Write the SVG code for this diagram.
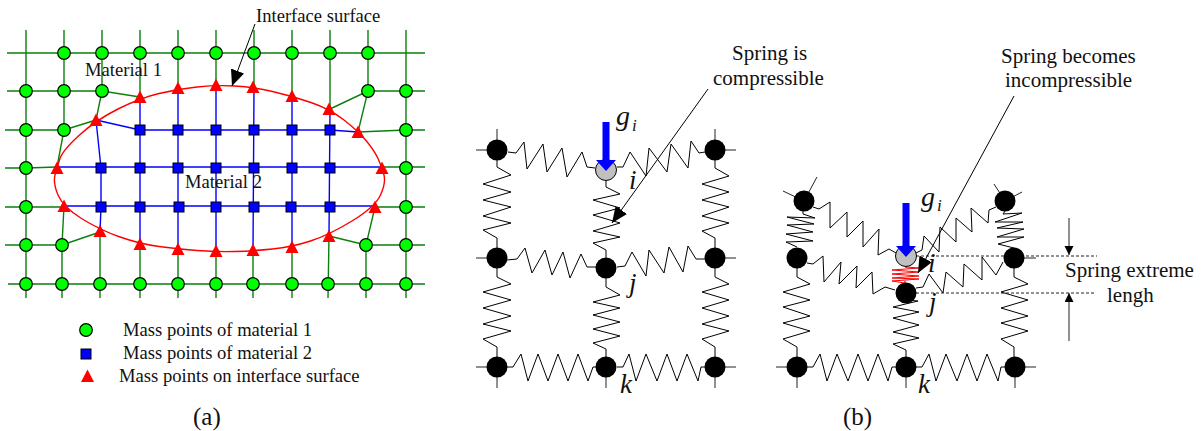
<svg xmlns="http://www.w3.org/2000/svg" xmlns:xlink="http://www.w3.org/1999/xlink" width="1204" height="431" viewBox="0 0 1204 431">
<style>
text{font-family:"Liberation Serif","Times New Roman",serif;fill:#111}
.s18{font-size:18.6px}.s20{font-size:21px}.s24{font-size:25px}
.it{font-style:italic}.g{font-size:28px}.ii{font-size:27px}.sub{font-size:17px}
.gr,.bl,.rd,.sp,.st,.ar,.dd,.dm{fill:none}
.gr{stroke:#0a800a;stroke-width:1.4}
.bl{stroke:#0000ff;stroke-width:1.4}
.rd{stroke:#ff0000;stroke-width:1.4}
.sp{stroke:#000;stroke-width:1;stroke-linejoin:miter}
.sr{fill:none;stroke:#ff0000;stroke-width:1}
.st{stroke:#222;stroke-width:1}
.ar{stroke:#000;stroke-width:1;marker-end:url(#ah)}
.dd{stroke:#222;stroke-width:1;stroke-dasharray:3 2}
.dm{stroke:#555;stroke-width:1.3;marker-end:url(#dh)}
.m1{fill:#00ff00;stroke:#000;stroke-width:1.2}
.m2{fill:#0000ff;stroke:#000;stroke-width:1}
.m3{fill:#ff0000}
.bk{fill:#000}
.gy{fill:#c0c0c0;stroke:#000;stroke-width:1}
.ba{fill:#0000ff}
</style>
<defs>
<marker id="ah" markerUnits="userSpaceOnUse" markerWidth="17" markerHeight="15" refX="16" refY="7" orient="auto"><path d="M0 0L16 7L0 14Z" fill="#000"/></marker>
<marker id="dh" markerUnits="userSpaceOnUse" markerWidth="10" markerHeight="10" refX="9" refY="4.5" orient="auto"><path d="M0 0L9 4.5L0 9Z" fill="#000"/></marker>
<circle id="c" r="6.3" class="m1"/>
<rect id="q" x="-5" y="-5" width="10" height="10" class="m2"/>
<path id="t" d="M0-6.5L6.500 6H-6.500Z" class="m3"/>
<circle id="n" r="10.5" class="bk"/>
</defs>

<g id="connectors-a">
<path class="gr" d="M7 53H425M7 91H102L140 97M330 109L368 91H425M5 130H64L96 120M358 132L406 130H425M5 168H26L57 167M382 167H425M5 207H64M375 207H425M5 245H62L100 232M329 236L366 245H425M8 284H425"/>
<path class="gr" d="M26 30V298M64 30V130L57 167M64 206L62 245V298M102 30V91L96 120M100 232V298M140 30V97M140 244V298M178 30V88M178 249V298M216 30V84M216 251V298M254 30V87M253 251V298M292 30V96M292 247V298M330 30V109M329 236L328 298M368 30V91L358 132M375 207L366 245V298M406 30V298"/>
<path class="bl" d="M96 120L140 130H330L358 132M57 167H382M64 206H375M96 120L101 168V207L100 232M140 97V244M178 88V249M216 84V251M254 87L253 251M292 96V247M330 109L329 236"/>
<path id="interface-curve" class="rd" d="M60 158.500Q63 150 79.500 135Q96 120 118 109Q140 98 159 93.500Q178 89 197 87Q216 85 234.500 86Q253 87 272.500 91.500Q292 96 311 102.500Q330 109 344 120Q358 131 366 140.500Q374 150 378 158.500Q382 167 384 175Q386 183 380.500 195Q375 207 352 221Q329 235 310.500 241Q292 247 272.500 249Q253 251 234.500 251.500Q216 252 197 250.500Q178 249 159 246.500Q140 244 120 237Q100 230 81.500 218.500Q63 207 58 195Q53 183 55 175Q57 167 60 158.500Z"/>
<path id="interface-arrow" class="ar" d="M255 24L232 86"/>
</g>

<g id="nodes-a">
<g id="a1"><use href="#c" x="64" y="53"/></g><g id="a2"><use href="#c" x="102" y="53"/></g><g id="a3"><use href="#c" x="140" y="53"/></g><g id="a4"><use href="#c" x="178" y="53"/></g><g id="a5"><use href="#c" x="216" y="53"/></g><g id="a6"><use href="#c" x="254" y="53"/></g><g id="a7"><use href="#c" x="292" y="53"/></g><g id="a8"><use href="#c" x="330" y="53"/></g><g id="a9"><use href="#c" x="368" y="53"/></g>
<g id="a10"><use href="#c" x="26" y="91"/></g><g id="a11"><use href="#c" x="64" y="91"/></g><g id="a12"><use href="#c" x="102" y="91"/></g><g id="a13"><use href="#c" x="368" y="91"/></g><g id="a14"><use href="#c" x="406" y="91"/></g>
<g id="a15"><use href="#c" x="26" y="130"/></g><g id="a16"><use href="#c" x="64" y="130"/></g><g id="a17"><use href="#c" x="406" y="130"/></g>
<g id="a18"><use href="#c" x="26" y="168"/></g><g id="a19"><use href="#c" x="406" y="168"/></g>
<g id="a20"><use href="#c" x="26" y="207"/></g><g id="a21"><use href="#c" x="406" y="207"/></g>
<g id="a22"><use href="#c" x="26" y="245"/></g><g id="a23"><use href="#c" x="62" y="245"/></g><g id="a24"><use href="#c" x="366" y="245"/></g><g id="a25"><use href="#c" x="406" y="245"/></g>
<g id="a26"><use href="#c" x="26" y="284"/></g><g id="a27"><use href="#c" x="62" y="284"/></g><g id="a28"><use href="#c" x="100" y="284"/></g><g id="a29"><use href="#c" x="140" y="284"/></g><g id="a30"><use href="#c" x="178" y="284"/></g><g id="a31"><use href="#c" x="216" y="284"/></g><g id="a32"><use href="#c" x="253" y="284"/></g><g id="a33"><use href="#c" x="292" y="284"/></g><g id="a34"><use href="#c" x="328" y="284"/></g><g id="a35"><use href="#c" x="366" y="284"/></g><g id="a36"><use href="#c" x="406" y="284"/></g>
<g id="b1"><use href="#q" x="140" y="130"/></g><g id="b2"><use href="#q" x="178" y="130"/></g><g id="b3"><use href="#q" x="216" y="130"/></g><g id="b4"><use href="#q" x="254" y="130"/></g><g id="b5"><use href="#q" x="292" y="130"/></g><g id="b6"><use href="#q" x="330" y="130"/></g>
<g id="b7"><use href="#q" x="101" y="168"/></g><g id="b8"><use href="#q" x="140" y="168"/></g><g id="b9"><use href="#q" x="178" y="168"/></g><g id="b10"><use href="#q" x="216" y="168"/></g><g id="b11"><use href="#q" x="254" y="168"/></g><g id="b12"><use href="#q" x="292" y="168"/></g><g id="b13"><use href="#q" x="330" y="168"/></g>
<g id="b14"><use href="#q" x="101" y="207"/></g><g id="b15"><use href="#q" x="140" y="207"/></g><g id="b16"><use href="#q" x="179" y="207"/></g><g id="b17"><use href="#q" x="216" y="207"/></g><g id="b18"><use href="#q" x="254" y="207"/></g><g id="b19"><use href="#q" x="291" y="207"/></g><g id="b20"><use href="#q" x="330" y="207"/></g>
<g id="t1"><use href="#t" x="96" y="120"/></g><g id="t2"><use href="#t" x="140" y="97"/></g><g id="t3"><use href="#t" x="178" y="88"/></g><g id="t4"><use href="#t" x="216" y="85"/></g><g id="t5"><use href="#t" x="253" y="87"/></g><g id="t6"><use href="#t" x="292" y="96"/></g><g id="t7"><use href="#t" x="329" y="109"/></g><g id="t8"><use href="#t" x="358" y="132"/></g>
<g id="t9"><use href="#t" x="57" y="168"/></g><g id="t10"><use href="#t" x="382" y="168"/></g><g id="t11"><use href="#t" x="64" y="206"/></g><g id="t12"><use href="#t" x="375" y="207"/></g>
<g id="t13"><use href="#t" x="100" y="231"/></g><g id="t14"><use href="#t" x="140" y="244"/></g><g id="t15"><use href="#t" x="178" y="249"/></g><g id="t16"><use href="#t" x="216" y="251"/></g><g id="t17"><use href="#t" x="253" y="250"/></g><g id="t18"><use href="#t" x="292" y="247"/></g><g id="t19"><use href="#t" x="329" y="236"/></g>
</g>

<g id="legend">
<g id="leg1"><use href="#c" x="86" y="330"/></g>
<g id="leg2"><use href="#q" x="86" y="354"/></g>
<g id="leg3"><use href="#t" x="87.500" y="376"/></g>
</g>

<g id="connectors-b1">
<path class="st" d="M476 150H507M497 129V160M715 129V160M705 150H736M476 258H507M736 258H705M476 367H507M497 388V357M606 388V357M705 367H736M715 388V357"/>
<polyline class="sp" points="508,152 516,153 524,142 527,169 543,144 547,172 562,148 567,177 582,152 587,167 595,168"/>
<polyline class="sp" points="617,167 623,167 630,152 646,176 649,148 667,172 671,144 688,168 691,141 699,153 705,152"/>
<polyline class="sp" points="497,160 497,167 511,175 483,184 511,192 483,200 511,207 483,216 511,223 483,230 497,238 497,248"/>
<polyline class="sp" points="606,180 606,187 620,194 593,200 620,208 593,215 620,223 593,231 620,237 593,243 606,250 606,258"/>
<polyline class="sp" points="715,160 715,168 729,176 702,184 729,192 702,200 729,207 702,216 729,223 702,231 715,238 715,248"/>
<polyline class="sp" points="507,260 517,259 525,248 532,273 545,250 552,275 563,252 570,278 581,254 587,267 596,267"/>
<polyline class="sp" points="617,267 625,266 632,252 646,276 649,250 664,273 669,247 683,272 688,246 696,259 705,259"/>
<polyline class="sp" points="497,268 497,277 511,284 483,292 511,300 483,308 511,316 483,324 511,331 483,339 497,347 497,357"/>
<polyline class="sp" points="606,278 606,287 620,295 593,302 620,308 593,315 620,322 593,329 620,336 593,343 606,349 606,357"/>
<polyline class="sp" points="715,268 715,277 729,284 702,292 729,300 702,308 729,316 702,324 729,331 702,339 715,347 715,357"/>
<polyline class="sp" points="507,367 513,367 521,354 528,381 538,354 548,381 558,354 568,381 578,354 588,381 593,367 596,367"/>
<polyline class="sp" points="617,367 623,367 629,354 636,381 646,354 657,381 667,354 677,381 687,354 698,381 701,367 705,367"/>
</g>
<g id="nodes-b1">
<g id="p1"><use href="#n" x="497" y="150"/></g><g id="p2"><circle class="gy" cx="606" cy="170" r="10.500"/></g><g id="p3"><use href="#n" x="715" y="150"/></g>
<g id="p4"><use href="#n" x="497" y="258"/></g><g id="p5"><use href="#n" x="606" y="268"/></g><g id="p6"><use href="#n" x="715" y="258"/></g>
<g id="p7"><use href="#n" x="497" y="367"/></g><g id="p8"><use href="#n" x="606" y="367"/></g><g id="p9"><use href="#n" x="715" y="367"/></g>
</g>
<g id="arrows-b1">
<polygon class="ba" points="602.500,122 609.500,122 609.500,160 616,160 606,171 596,160 602.500,160"/>
<path class="ar" d="M708 89L612 223"/>
</g>

<g id="connectors-b2">
<path class="st" d="M804 201L817 177M804 201L783 191M1005 201L994 184M1005 201L1022 192M1014 258H1036M776 367H807M797 388V357M906 388V357M1005 367H1036M1015 388V357M906 262V268M905 281V285"/>
<polyline class="sp" points="803,211 803,214 815,218 787,217 814,224 787,225 813,232 786,234 813,241 786,242 797,247"/>
<polyline class="sp" points="1005,211 1003,214 1022,213 995,222 1023,222 997,228 1024,229 997,237 1024,237 998,244 1014,248"/>
<polyline class="sp" points="813,207 819,209 830,202 830,228 847,212 847,237 863,221 863,247 879,229 878,255 889,249 896,253"/>
<polyline class="sp" points="916,253 922,250 924,236 939,252 940,227 956,242 956,218 972,232 971,208 988,223 989,210 996,207"/>
<polyline class="sp" points="807,263 813,264 823,256 824,282 841,262 839,284 857,266 856,288 872,272 873,294 885,287 895,290"/>
<polyline class="sp" points="916,288 923,287 929,274 943,293 946,272 963,287 964,264 982,280 982,257 996,275 1003,262"/>
<polyline class="sr" points="906,267 919,268 892,270 919,272 892,274 919,276 892,278 919,279 892,281 905,283"/>
<polyline class="sp" points="906,300 918,301 893,307 919,312 893,318 919,325 893,332 919,338 893,344 906,350 906,357"/>
<polyline class="sp" points="797,268 797,277 810,284 783,292 810,300 783,307 810,316 783,323 810,331 783,339 797,347 797,357"/>
<polyline class="sp" points="1014,268 1014,277 1028,284 1001,292 1028,300 1001,308 1028,316 1001,323 1028,331 1001,339 1014,347 1014,357"/>
<polyline class="sp" points="807,367 813,367 820,354 827,381 837,354 848,381 858,354 868,381 878,354 888,381 892,367 896,367"/>
<polyline class="sp" points="916,367 922,367 929,354 936,381 946,354 957,381 967,354 977,381 987,354 998,381 1001,367 1005,367"/>
<path class="dd" d="M906 256H1097M906 293H1096"/>
<path class="dm" d="M1069 218V255"/>
<path class="dm" d="M1069 341V293"/>
</g>
<g id="nodes-b2">
<g id="r1"><use href="#n" x="804" y="201"/></g><g id="r2"><use href="#n" x="1005" y="201"/></g>
<g id="r3"><use href="#n" x="797" y="258"/></g><g id="r4"><circle class="gy" cx="906" cy="256" r="10.500"/></g><g id="r5"><use href="#n" x="1014" y="258"/></g>
<g id="r6"><use href="#n" x="906" y="293"/></g>
<g id="r7"><use href="#n" x="797" y="367"/></g><g id="r8"><use href="#n" x="906" y="367"/></g><g id="r9"><use href="#n" x="1015" y="367"/></g>
</g>
<g id="arrows-b2">
<polygon class="ba" points="902.500,203 909.500,203 909.500,246 916,246 906,257 896,246 902.500,246"/>
<path class="ar" d="M1014 96L918 273"/>
</g>

<g id="labels">
<text class="s18" x="256" y="22">Interface surface</text>
<text class="s18" x="85" y="76">Material 1</text>
<text class="s18" x="185" y="188">Material 2</text>
<text class="s18" x="123" y="336">Mass points of material 1</text>
<text class="s18" x="123" y="359">Mass points of material 2</text>
<text class="s18" x="119" y="382">Mass points on interface surface</text>
<text class="s24" x="193" y="425">(a)</text>
<text class="s24" x="843" y="425">(b)</text>
<text class="s20" x="732" y="60">Spring is</text>
<text class="s20" x="713" y="85">compressible</text>
<text class="s20" x="1001" y="63">Spring becomes</text>
<text class="s20" x="1005" y="87">incompressible</text>
<text class="s20" x="1065" y="277">Spring extreme</text>
<text class="s20" x="1107" y="302">lengh</text>
<text class="it g" x="616" y="125">g</text><text class="it sub" x="632" y="131">i</text>
<text class="it ii" x="629" y="189">i</text>
<text class="it ii" x="629" y="292">j</text>
<text class="it ii" x="620" y="393">k</text>
<text class="it g" x="921" y="206">g</text><text class="it sub" x="937" y="211">i</text>
<text class="it ii" x="928" y="272">i</text>
<text class="it ii" x="929" y="311">j</text>
<text class="it ii" x="918" y="393">k</text>
</g>
</svg>
